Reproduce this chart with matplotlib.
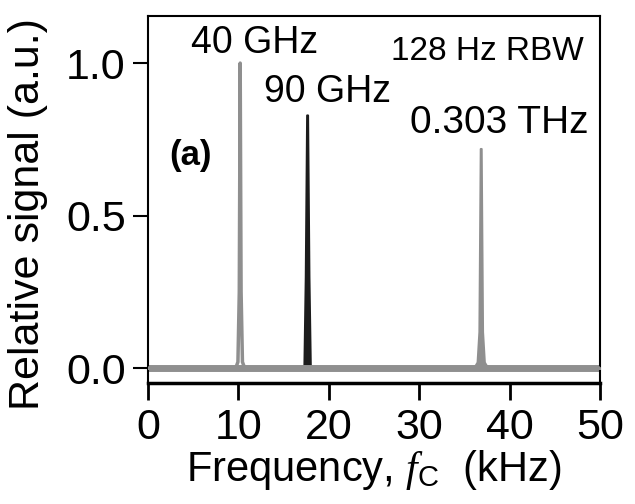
import matplotlib.pyplot as plt

plt.rcParams['font.family'] = ['Liberation Sans', 'DejaVu Sans']
plt.rcParams['mathtext.fontset'] = 'custom'
plt.rcParams['mathtext.it'] = 'Liberation Serif:italic'
plt.rcParams['mathtext.rm'] = 'Liberation Sans'

# spectra (kHz, relative signal)
f_40 = [0, 9.7, 9.95, 10.1, 10.2, 10.3, 10.45, 10.7, 50]
s_40 = [0, 0.0, 0.02, 0.25, 1.0, 0.25, 0.02, 0.0, 0]

f_90 = [0, 17.0, 17.25, 17.4, 17.55, 17.65, 17.8, 17.95, 18.2, 36.5, 36.8, 37.1, 50]
s_90 = [0, 0.0, 0.01, 0.3, 0.83, 0.83, 0.3, 0.01, 0.0, 0.0, 0.03, 0.0, 0]

f_303 = [0, 36.0, 36.4, 36.6, 36.75, 36.85, 37.0, 37.2, 37.6, 50]
s_303 = [0, 0.0, 0.02, 0.12, 0.72, 0.72, 0.12, 0.02, 0.0, 0]

grey = '#8f8f8f'
dark = '#1c1c1c'

fig = plt.figure(figsize=(6.35, 5.04), dpi=100)
ax = fig.add_axes([0.233, 0.240, 0.712, 0.728])

ax.fill_between(f_90, s_90, color=dark, lw=1.5, edgecolor=dark, zorder=1)
ax.plot([0, 50], [0, 0], color=grey, lw=5, solid_capstyle='butt', zorder=2)
ax.plot(f_40, s_40, color=grey, lw=2.5, zorder=3)
ax.fill_between(f_303, s_303, color=grey, lw=1.5, edgecolor=grey, zorder=3)

ax.set_xlim(0, 50)
ax.set_ylim(-0.049, 1.154)
ax.set_xticks([0, 10, 20, 30, 40, 50])
ax.set_yticks([0.0, 0.5, 1.0])
ax.set_yticklabels(['0.0', '0.5', '1.0'])
ax.tick_params(axis='x', direction='out', length=12, width=2, labelsize=31, pad=6)
ax.tick_params(axis='y', direction='out', length=11, width=1.5, labelsize=31, pad=5)
for side in ['top', 'left', 'right']:
    ax.spines[side].set_linewidth(1.5)
ax.spines['bottom'].set_linewidth(2.5)

ax.set_xlabel(r'Frequency, $\mathit{f}_{\mathrm{C}}$  (kHz)', fontsize=30, labelpad=0)
ax.set_ylabel('Relative signal (a.u.)', fontsize=31)
ax.yaxis.set_label_coords(-0.222, 0.46)

ax.text(11.84, 1.033, '40 GHz', fontsize=27, ha='center', va='baseline')
ax.text(19.9, 0.872, '90 GHz', fontsize=27, ha='center', va='baseline')
ax.text(38.9, 0.770, '0.303 THz', fontsize=28, ha='center', va='baseline')
ax.text(37.5, 1.010, '128 Hz RBW', fontsize=24, ha='center', va='baseline')
ax.text(4.65, 0.666, '(a)', fontsize=25, fontweight='bold', ha='center', va='baseline')

fig.savefig('out.png', dpi=100)
